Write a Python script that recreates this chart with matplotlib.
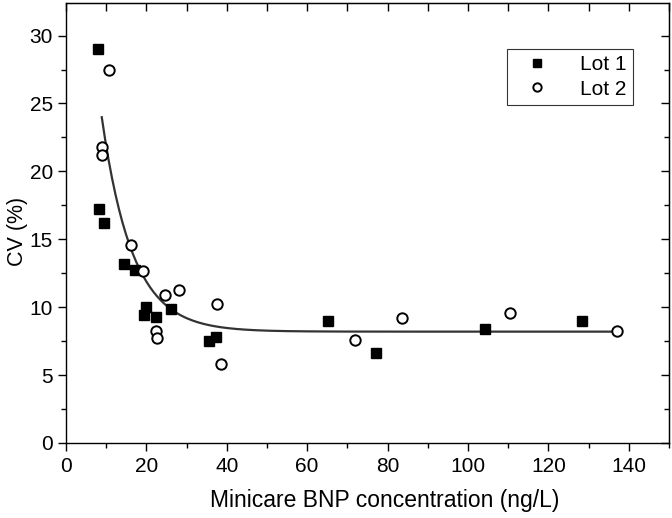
import numpy as np
import matplotlib.pyplot as plt
from matplotlib.ticker import MultipleLocator

plt.rcParams['font.family'] = ['Liberation Sans', 'DejaVu Sans']

# Lot 1 (filled squares)
lot1_x = [8.0, 8.1, 9.5, 14.4, 17.1, 19.9, 19.5, 22.4, 26.0, 35.5, 37.2, 65.3, 77.0, 104.3, 128.3]
lot1_cv = [29.0, 17.2, 16.2, 13.2, 12.75, 10.0, 9.4, 9.3, 9.9, 7.5, 7.8, 8.95, 6.6, 8.4, 9.0]

# Lot 2 (open circles)
lot2_x = [10.6, 8.9, 8.9, 16.2, 19.2, 24.6, 28.2, 37.6, 22.3, 22.6, 38.5, 71.8, 83.7, 110.4, 137.1]
lot2_cv = [27.5, 21.8, 21.2, 14.6, 12.7, 10.9, 11.3, 10.2, 8.25, 7.7, 5.8, 7.6, 9.2, 9.6, 8.25]

# exponential decay fit: y = y0 + A * exp(-x / t)
fit_y0, fit_A, fit_t = 8.2, 50.7, 7.63
fit_range = (8.9, 137.1)

fig = plt.figure(figsize=(6.72, 5.18), dpi=100)
ax = fig.add_axes([0.0982, 0.1448, 0.8973, 0.8494])

xf = np.linspace(fit_range[0], fit_range[1], 300)
ax.plot(xf, fit_y0 + fit_A * np.exp(-xf / fit_t), color='#333333', lw=1.6, zorder=1)

ax.plot(lot1_x, lot1_cv, 's', color='black', ms=7.5, ls='none', label='Lot 1', zorder=3)
ax.plot(lot2_x, lot2_cv, 'o', mfc='white', mec='black', mew=1.4, ms=7.5, ls='none',
        label='Lot 2', zorder=3)

ax.set_xlim(0, 150)
ax.set_ylim(0, 32.4)
ax.xaxis.set_major_locator(MultipleLocator(20))
ax.xaxis.set_minor_locator(MultipleLocator(10))
ax.yaxis.set_major_locator(MultipleLocator(5))
ax.yaxis.set_minor_locator(MultipleLocator(2.5))

ax.tick_params(which='both', direction='out', labelsize=15, width=1)
ax.tick_params(which='major', length=6)
ax.tick_params(which='minor', length=3.5)
ax.tick_params(axis='x', pad=4)

# mirrored inward ticks on top and right
sx = ax.secondary_xaxis('top')
sx.xaxis.set_major_locator(MultipleLocator(20))
sx.xaxis.set_minor_locator(MultipleLocator(10))
sx.tick_params(which='both', direction='in', labeltop=False, width=1)
sx.tick_params(which='major', length=6)
sx.tick_params(which='minor', length=6)
sy = ax.secondary_yaxis('right')
sy.yaxis.set_major_locator(MultipleLocator(5))
sy.yaxis.set_minor_locator(MultipleLocator(2.5))
sy.tick_params(which='both', direction='in', labelright=False, width=1)
sy.tick_params(which='major', length=6)
sy.tick_params(which='minor', length=3.5)

for s in list(ax.spines.values()):
    s.set_linewidth(1)

ax.set_xlabel('Minicare BNP concentration (ng/L)', fontsize=16.5)
ax.xaxis.set_label_coords(0.529, -0.105)
ax.set_ylabel('CV (%)', fontsize=15.5)
ax.yaxis.set_label_coords(-0.063, 0.48)

leg = ax.legend(loc='upper right', bbox_to_anchor=(0.6, 0.0, 0.34, 0.895),
                fontsize=15, frameon=True, fancybox=False, edgecolor='black',
                handletextpad=0.9, borderpad=0.3, labelspacing=0.25, markerscale=0.8,
                borderaxespad=0, handlelength=2.3)
leg.get_frame().set_linewidth(0.8)

fig.savefig('out.png', dpi=100)
